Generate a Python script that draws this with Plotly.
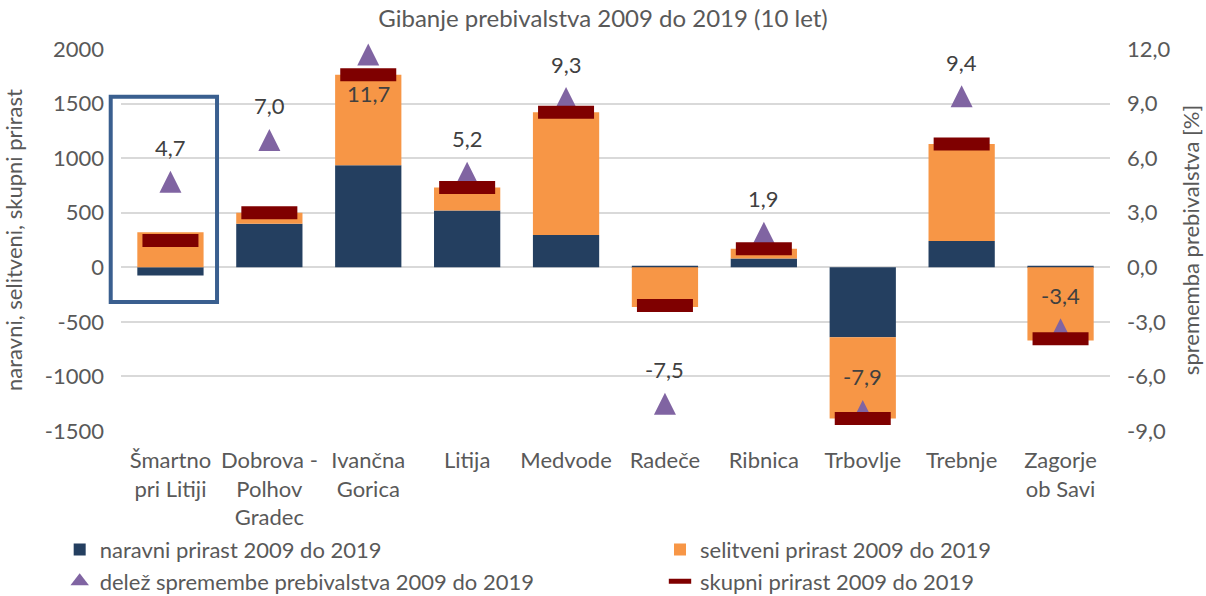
import plotly.graph_objects as go

categories = ["Šmartno<br>pri Litiji", "Dobrova -<br>Polhov<br>Gradec", "Ivančna<br>Gorica", "Litija",
              "Medvode", "Radeče", "Ribnica", "Trbovlje", "Trebnje", "Zagorje<br>ob Savi"]
naravni = [-75, 400, 935, 520, 295, 15, 80, -640, 240, 15]
selitveni = [320, 100, 830, 210, 1125, -365, 90, -745, 890, -670]
skupni = [245, 500, 1765, 730, 1420, -350, 170, -1385, 1130, -655]
delez = [4.7, 7.0, 11.7, 5.2, 9.3, -7.5, 1.9, -7.9, 9.4, -3.4]
label_above = [True, True, False, True, True, True, True, True, True, True]

left_ticks = [-1500, -1000, -500, 0, 500, 1000, 1500, 2000]
right_ticks = [-9, -6, -3, 0, 3, 6, 9, 12]

FONT = "Lato"
FS = 22
GREY = "#595959"
NAVY = "#243F60"
ORANGE = "#F79646"
DARKRED = "#7F0000"
PURPLE = "#8064A2"
DELEZ_NAME = "delež spremembe prebivalstva 2009 do 2019"

fig = go.Figure()
fig.add_trace(go.Bar(x=categories, y=naravni, name="naravni prirast 2009 do 2019",
                     marker=dict(color=NAVY, line=dict(width=0)), yaxis="y", legend="legend"))
fig.add_trace(go.Bar(x=categories, y=selitveni, name="selitveni prirast 2009 do 2019",
                     marker=dict(color=ORANGE, line=dict(width=0)), yaxis="y", legend="legend2"))
fig.add_trace(go.Scatter(x=categories, y=delez, name=DELEZ_NAME, showlegend=False,
                         mode="markers", yaxis="y2", cliponaxis=False,
                         marker=dict(symbol="arrow-down", angle=180, standoff=11, size=22, color=PURPLE)))
# legend entry for the triangle series
fig.add_trace(go.Scatter(x=[None], y=[None], name=DELEZ_NAME, mode="markers", yaxis="y2",
                         legend="legend", marker=dict(symbol="triangle-up", size=16, color=PURPLE)))
fig.add_trace(go.Scatter(x=categories, y=skupni, name="skupni prirast 2009 do 2019",
                         mode="markers", yaxis="y3", cliponaxis=False, legend="legend2",
                         marker=dict(symbol="line-ew", size=40, color=DARKRED,
                                     line=dict(color=DARKRED, width=13))))

for c, v, above in zip(categories, delez, label_above):
    fig.add_annotation(x=c, y=v, xref="x", yref="y2", text=f"{v:.1f}".replace(".", ","),
                       showarrow=False, yshift=34 if above else -39,
                       font=dict(family=FONT, size=FS, color="#404040"))

fig.add_shape(type="rect", xref="paper", yref="paper", x0=-0.0104, x1=0.0971, y0=0.3377, y1=0.875,
              line=dict(color="#3A5F8F", width=4), fillcolor="rgba(0,0,0,0)")

legend_common = dict(orientation="v", y=-0.256, yanchor="top", xanchor="left", traceorder="normal",
                     font=dict(family=FONT, size=FS, color=GREY), tracegroupgap=0,
                     bgcolor="rgba(0,0,0,0)", itemclick=False)

fig.update_layout(
    width=1206, height=596,
    margin=dict(l=121, r=96, t=49, b=165, autoexpand=False),
    paper_bgcolor="white", plot_bgcolor="white",
    font=dict(family=FONT, size=FS, color=GREY),
    title=dict(text="Gibanje prebivalstva 2009 do 2019 (10 let)", x=0.5, xanchor="center",
               y=0.968, yanchor="middle", font=dict(family=FONT, size=24, color=GREY)),
    barmode="relative", bargap=0.33,
    showlegend=True,
    legend=dict(x=-0.062, **legend_common),
    legend2=dict(x=0.545, **legend_common),
    xaxis=dict(type="category", range=[-0.5, len(categories) - 0.5], showgrid=False, showline=False,
               ticks="", ticklabelstandoff=14, tickfont=dict(family=FONT, size=FS, color=GREY)),
    yaxis=dict(range=[-1500, 2000], tickvals=left_ticks, ticktext=[str(t) for t in left_ticks],
               showgrid=True, gridcolor="#D9D9D9", gridwidth=1.5, zeroline=True, zerolinecolor="#D9D9D9",
               zerolinewidth=1.5, showline=False, ticks="", ticklabelstandoff=16,
               title=dict(text="naravni, selitveni, skupni prirast", standoff=16,
                          font=dict(family=FONT, size=FS, color=GREY)),
               tickfont=dict(family=FONT, size=FS, color=GREY)),
    yaxis2=dict(range=[-9, 12], overlaying="y", side="right", tickvals=right_ticks,
                ticktext=[f"{t:.1f}".replace(".", ",") for t in right_ticks],
                showgrid=False, zeroline=False, showline=False, ticks="", ticklabelstandoff=16,
                title=dict(text="sprememba prebivalstva [%]", standoff=14,
                           font=dict(family=FONT, size=FS, color=GREY)),
                tickfont=dict(family=FONT, size=FS, color=GREY)),
    yaxis3=dict(range=[-1500, 2000], overlaying="y", visible=False),
)

fig.write_html("out.html", config={"displayModeBar": False},
               post_script="document.body.style.margin='0';")
